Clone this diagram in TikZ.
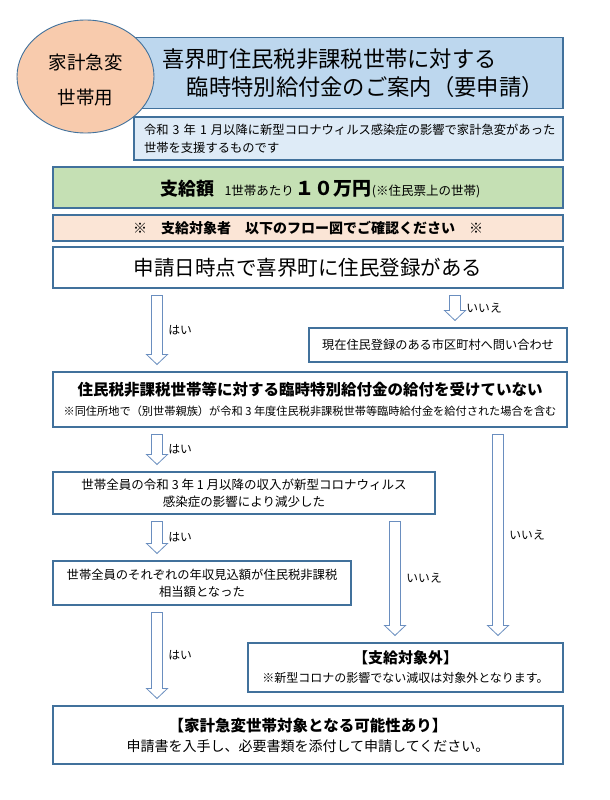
\documentclass[tikz,border=0pt]{standalone}
\usepackage{fontspec}
\setmainfont{Noto Sans CJK JP}
\usetikzlibrary{shapes.geometric,calc}
\definecolor{edgeblue}{HTML}{41719C}
\definecolor{arrowblue}{HTML}{6A8EBF}
\definecolor{badgefill}{HTML}{F8CBAD}
\definecolor{titlefill}{HTML}{BDD7EE}
\definecolor{leadfill}{HTML}{DEEBF7}
\definecolor{amountfill}{HTML}{C5E0B4}
\definecolor{notefill}{HTML}{FBE5D6}
\newcommand{\fsz}[2]{\fontsize{#1}{#2}\selectfont}
\newcommand{\flowarrow}[3]{%
  \filldraw[flowarrowline] let \p1=(#1), \p2=(#2) in
    (\x1-5.5pt,\y1-7pt) -- (\x1+5.5pt,\y1-7pt) -- (\x1+5.5pt,\y2+17pt) -- (\x1+10.5pt,\y2+17pt)
    -- (\x1,\y2+7pt) -- (\x1-10.5pt,\y2+17pt) -- (\x1-5.5pt,\y2+17pt) -- cycle
    (\x1+11pt,{(\y1+\y2)/2}) node[right, answer] {#3};}

\begin{document}
\begin{tikzpicture}[x=1pt, y=-1pt,
  box/.style={draw=edgeblue, line width=1.1pt, inner sep=0pt, align=center},
  flowarrowline/.style={draw=arrowblue, fill=white, line width=0.8pt, line join=miter},
  answer/.style={inner sep=0pt, font=\fsz{11.8}{12}}]
  \fill[white] (0,0) rectangle (610,800);
  \useasboundingbox (0,0) rectangle (610,800);
  \node[box, fill=titlefill, minimum width=429pt, minimum height=71pt] (title) at (348.5,73) {};
  \node[align=left, font=\fsz{22.3}{28}] (titletext) at (353,73) {喜界町住民税非課税世帯に対する\\\hspace*{1.1em}臨時特別給付金のご案内（要申請）};
  \node[box, fill=leadfill, minimum width=429pt, minimum height=43pt, text width=409pt, align=left, font=\fsz{12.3}{18}] (lead) at (348.5,138.5) {令和 3 年 1 月以降に新型コロナウィルス感染症の影響で家計急変があった\\世帯を支援するものです};
  \node[ellipse, draw=edgeblue, line width=0.9pt, fill=badgefill, minimum width=137pt, minimum height=113pt, inner sep=0pt] (badge) at (85.5,76.5) {};
  \node[align=center, font=\fsz{18.5}{35}] (badgetext) at (85.5,79.5) {家計急変\\世帯用};
  \node[box, fill=amountfill, minimum width=510pt, minimum height=41pt] (amount) at (308,187.5) {};
  \node (amounttext) at (320.5,189) {{\fsz{18}{18}\bfseries 支給額}\hspace{10pt}{\fsz{12.5}{13}1世帯あたり}\hspace{2pt}{\fsz{19}{19}\bfseries １０万円}{\fsz{12.5}{13}(※住民票上の世帯)}};
  \node[box, fill=notefill, minimum width=510pt, minimum height=26pt, font=\fsz{14}{14}\bfseries] (notice) at (308,228) {※　支給対象者　以下のフロー図でご確認ください　※};
  \node[box, minimum width=510pt, minimum height=41pt, font=\fsz{20.5}{21}] (resident) at (308,267.5) {申請日時点で喜界町に住民登録がある};
  \node[box, minimum width=258pt, minimum height=34pt, font=\fsz{12.2}{13}] (inquiry) at (438,345) {現在住民登録のある市区町村へ問い合わせ};
  \node[box, minimum width=514pt, minimum height=55pt, font=\fsz{11.2}{20}] (received) at (310,399.5) {{\fsz{15.5}{20}\bfseries 住民税非課税世帯等に対する臨時特別給付金の給付を受けていない}\\※同住所地で（別世帯親族）が令和 3 年度住民税非課税世帯等臨時給付金を給付された場合を含む};
  \node[box, minimum width=382pt, minimum height=42pt, font=\fsz{12.5}{17}] (income) at (244,493) {世帯全員の令和 3 年 1 月以降の収入が新型コロナウィルス\\感染症の影響により減少した};
  \node[box, minimum width=298pt, minimum height=44pt, font=\fsz{12.3}{17}] (estimate) at (202,583) {世帯全員のそれぞれの年収見込額が住民税非課税\\相当額となった};
  \node[box, minimum width=315pt, minimum height=49pt, font=\fsz{12}{19}] (excluded) at (405.5,667.5) {{\fsz{15}{19}\bfseries 【支給対象外】}\\※新型コロナの影響でない減収は対象外となります。};
  \node[box, minimum width=510pt, minimum height=58pt, font=\fsz{14}{20}] (eligible) at (308,735) {{\fsz{15.5}{20}\bfseries 【家計急変世帯対象となる可能性あり】}\\申請書を入手し、必要書類を添付して申請してください。};
  \coordinate (yescol) at (157,0);
  \coordinate (nocol) at (455,0);
  \coordinate (midcol) at (395,0);
  \coordinate (rightcol) at (498,0);
  \flowarrow{resident.south -| yescol}{received.north -| yescol}{はい}
  \flowarrow{resident.south -| nocol}{inquiry.north -| nocol}{いいえ}
  \flowarrow{received.south -| yescol}{income.north -| yescol}{はい}
  \flowarrow{received.south -| rightcol}{excluded.north -| rightcol}{いいえ}
  \flowarrow{income.south -| yescol}{estimate.north -| yescol}{はい}
  \flowarrow{income.south -| midcol}{excluded.north -| midcol}{いいえ}
  \flowarrow{estimate.south -| yescol}{eligible.north -| yescol}{はい}
\end{tikzpicture}
\end{document}
